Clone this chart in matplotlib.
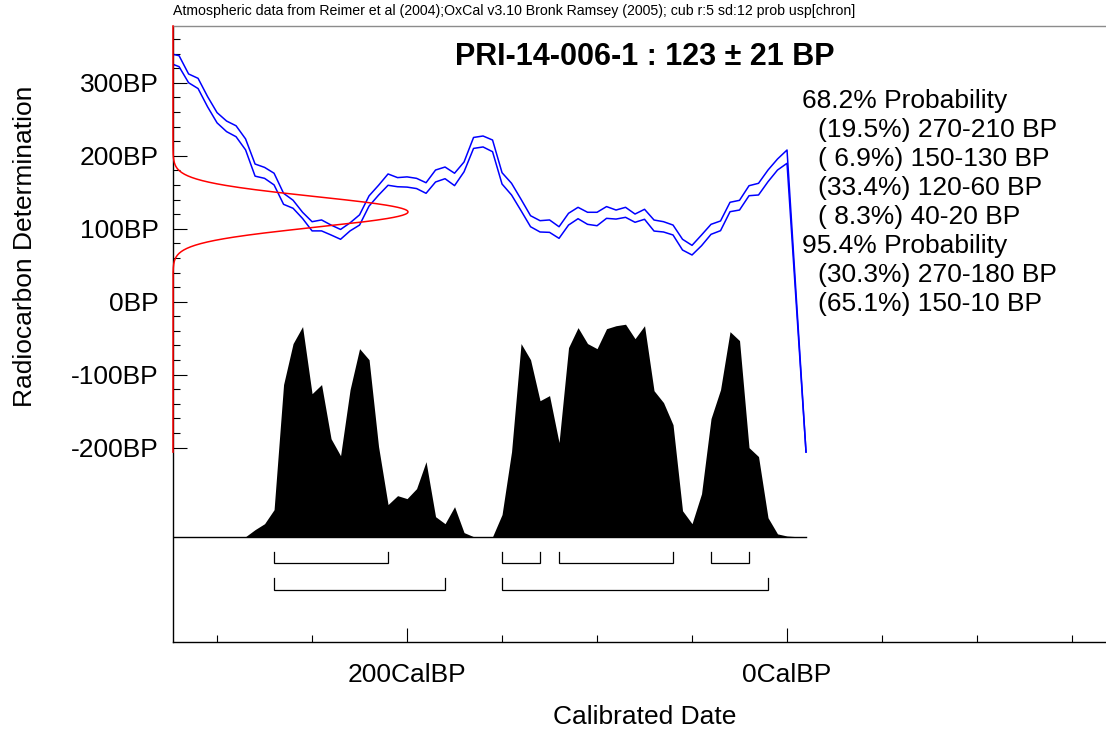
"""
OxCal style calibration plot for PRI-14-006-1 (123 +/- 21 BP).
"""

from __future__ import annotations

import matplotlib

matplotlib.use("Agg")
import matplotlib.pyplot as plt
import numpy as np
from matplotlib.ticker import FixedLocator, FuncFormatter, NullFormatter

plt.rcParams["font.family"] = ["Liberation Sans", "DejaVu Sans"]

SAMPLE_NAME = "PRI-14-006-1"
DATE_BP = 123
DATE_SD = 21

CAPTION = (
    "Atmospheric data from Reimer et al (2004);OxCal v3.10 Bronk Ramsey (2005); "
    "cub r:5 sd:12 prob usp[chron]"
)

# Calibration curve envelope (BP) against calendar age (CalBP)
CURVE_CALBP = [
    325, 320, 315, 310, 305, 300, 295, 290, 285, 280, 275, 270, 265, 260, 255,
    250, 245, 240, 235, 230, 225, 220, 215, 210, 205, 200, 195, 190, 185, 180,
    175, 170, 165, 160, 155, 150, 145, 140, 135, 130, 125, 120, 115, 110, 105,
    100, 95, 90, 85, 80, 75, 70, 65, 60, 55, 50, 45, 40, 35, 30,
    25, 20, 15, 10, 5, 0, -10,
]
CURVE_UPPER = [
    340, 337, 312, 306, 281, 259, 247.5, 241, 223, 188.6, 184, 176, 148.5, 139, 122.5,
    109.6, 112, 105, 99, 108, 119, 145, 159.5, 175, 170, 171, 169, 163, 180.4, 184.5,
    176, 191.4, 225, 227, 221.5, 176.7, 162.2, 140.3, 117.8, 111, 112, 102.7, 121.1, 129.3, 122.5,
    122.5, 130.3, 125.6, 129.3, 120.1, 126.6, 111.9, 109.6, 105, 85.5, 77.2, 91.4, 106, 110.6, 136.2,
    138.9, 158.9, 162.2, 180.4, 195.5, 207.8, -206,
]
CURVE_LOWER = [
    327, 322, 300, 292, 267, 245, 233, 226, 208, 172, 169, 160, 133.4, 128, 114,
    97, 97, 91.4, 85.5, 97, 105, 131, 146, 159.5, 157.5, 157, 155, 148.5, 164, 168.5,
    159, 178, 210, 212, 205.5, 161.2, 146.2, 124.7, 102.7, 95.5, 95, 86.8, 105, 113.7, 106,
    104.1, 114.2, 113.2, 115.6, 108.8, 112.9, 96.8, 95.5, 91.4, 70.8, 64, 76.7, 92.3, 97.3, 123.3,
    125.6, 145.2, 146.2, 164.4, 180.4, 189.6, -206,
]

# Calibrated probability distribution (relative, % of max)
PROB_CALBP = [
    285, 280, 275, 270, 265, 260, 255, 250, 245, 240, 235, 230, 225, 220, 215,
    210, 205, 200, 195, 190, 185, 180, 175, 170, 165, 160, 155, 150, 145, 140,
    135, 130, 125, 120, 115, 110, 105, 100, 95, 90, 85, 80, 75, 70, 65,
    60, 55, 50, 45, 40, 35, 30, 25, 20, 15, 10, 5, 0, -5,
]
PROB_VALUES = [
    0, 3.3, 6.1, 12.7, 71.6, 90.9, 98.9, 67.3, 71.6, 46.1, 38.1, 69.2, 88.5, 83.3, 42.4,
    15.1, 19.3, 17.9, 22.6, 35.3, 9.4, 6.1, 14.1, 1.9, 0, 0, 0, 10.4, 40.0, 90.9,
    83.3, 64.0, 66.4, 44.3, 89.0, 98.4, 90.9, 88.5, 97.9, 99.3, 100, 93.2, 99.3, 68.7, 63.1,
    52.7, 12.2, 6.1, 20.2, 55.6, 69.2, 96.5, 92.3, 41.9, 37.7, 8.9, 1.3, 0.3, 0,
]

# Highest probability ranges (CalBP)
RANGES_68 = [(270, 210), (150, 130), (120, 60), (40, 20)]
RANGES_95 = [(270, 180), (150, 10)]

PROB_LINES = [
    "68.2% Probability",
    "(19.5%) 270-210 BP",
    "( 6.9%) 150-130 BP",
    "(33.4%) 120-60 BP",
    "( 8.3%) 40-20 BP",
    "95.4% Probability",
    "(30.3%) 270-180 BP",
    "(65.1%) 150-10 BP",
]

X_LIMITS = (323.2, -167.9)
Y_LIMITS = (-466.2, 377.7)
PROB_LIMITS = (-49.6, 240.4)
BP_RANGE = (-206, 377.7)


def _draw_brackets(ax, ranges, top, bottom):
    for start, end in ranges:
        ax.plot([start, start, end, end], [top, bottom, bottom, top],
                color="black", linewidth=0.9, solid_joinstyle="miter")


def main() -> int:
    fig = plt.figure(figsize=(11.06, 7.29), dpi=100)
    rect = [173 / 1106, 87 / 729, 1 - 173 / 1106, 616 / 729]
    ax = fig.add_axes(rect)
    ax.set_xlim(*X_LIMITS)
    ax.set_ylim(*Y_LIMITS)

    # calibration curve
    ax.plot(CURVE_CALBP, CURVE_UPPER, color="#0000ff", linewidth=1.1)
    ax.plot(CURVE_CALBP, CURVE_LOWER, color="#0000ff", linewidth=1.1)

    # radiocarbon measurement drawn along the y axis
    y_bp = np.linspace(BP_RANGE[0], BP_RANGE[1], 800)
    dens = np.exp(-0.5 * ((y_bp - DATE_BP) / DATE_SD) ** 2)
    ax.plot(X_LIMITS[0] - 123.7 * dens, y_bp, color="#ff0000", linewidth=1.1,
            clip_on=False, zorder=5)

    ax.spines["right"].set_visible(False)
    ax.spines["top"].set_color("#8c8c8c")
    ax.spines["top"].set_linewidth(1.0)
    ax.spines["left"].set_linewidth(1.0)
    ax.spines["bottom"].set_linewidth(1.0)

    ax.xaxis.set_major_locator(FixedLocator([200, 0]))
    ax.xaxis.set_minor_locator(FixedLocator([300, 250, 150, 100, 50, -50, -100, -150]))
    ax.xaxis.set_major_formatter(FuncFormatter(lambda v, _: f"{int(round(v))}CalBP"))
    ax.xaxis.set_minor_formatter(NullFormatter())
    ax.yaxis.set_major_locator(FixedLocator([300, 200, 100, 0, -100, -200]))
    ax.yaxis.set_minor_locator(FixedLocator([v for v in range(-180, 380, 20) if v % 100 != 0]))
    ax.yaxis.set_major_formatter(FuncFormatter(lambda v, _: f"{int(round(v))}BP"))
    ax.yaxis.set_minor_formatter(NullFormatter())
    ax.tick_params(axis="both", which="both", direction="in", width=0.8, color="black",
                   top=False, right=False)
    ax.tick_params(axis="both", which="major", length=10, labelsize=19)
    ax.tick_params(axis="both", which="minor", length=5)
    ax.tick_params(axis="x", which="major", pad=15)
    ax.tick_params(axis="y", which="major", pad=10.5)

    # probability distribution and ranges on their own vertical scale
    ax2 = fig.add_axes(rect, sharex=ax, frameon=False)
    ax2.set_ylim(*PROB_LIMITS)
    ax2.axis("off")
    ax2.fill_between(PROB_CALBP, 0, PROB_VALUES, color="black", linewidth=0)
    ax2.plot([X_LIMITS[0], -10], [0, 0], color="black", linewidth=1.0)
    _draw_brackets(ax2, RANGES_68, -7.06, -12.5)
    _draw_brackets(ax2, RANGES_95, -19.6, -25.2)

    fig.text(173 / 1106, 1 - 11 / 729, CAPTION, fontsize=10.2, ha="left", va="center")
    fig.text(645 / 1106, 1 - 57 / 729, f"{SAMPLE_NAME} : {DATE_BP} \u00b1 {DATE_SD} BP",
             fontsize=22, fontweight="bold", ha="center", va="center")
    for i, line in enumerate(PROB_LINES):
        x_px = 802 if "Probability" in line else 817.7
        fig.text(x_px / 1106, 1 - (101 + 29 * i) / 729, line, fontsize=19,
                 ha="left", va="center")

    fig.text(25 / 1106, 1 - 246 / 729, "Radiocarbon Determination", fontsize=19,
             rotation=90, ha="center", va="center")
    fig.text(645 / 1106, 1 - 717 / 729, "Calibrated Date", fontsize=19,
             ha="center", va="center")

    fig.savefig("out.png", dpi=100)
    plt.close(fig)
    return 0


if __name__ == "__main__":
    raise SystemExit(main())
